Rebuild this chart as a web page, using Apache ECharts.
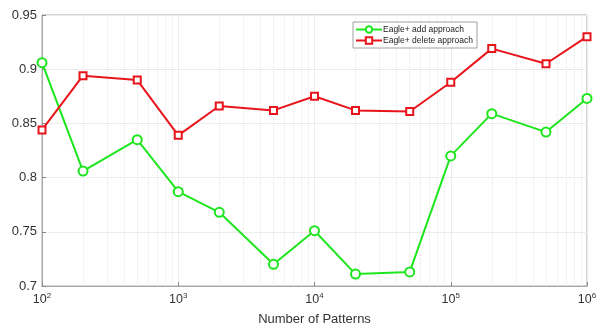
<!DOCTYPE html>
<html>
<head>
<meta charset="utf-8">
<script src="https://cdn.jsdelivr.net/npm/echarts@6/dist/echarts.min.js"></script>
<style>
html, body { margin: 0; padding: 0; background: #fff; }
#myChart1 { width: 604px; height: 331px; }
</style>
</head>
<body>
<div id="myChart1"></div>
<script>
// number of patterns (x) and accuracy of the two approaches
var patterns = [100, 200, 500, 1000, 2000, 5000, 10000, 20000, 50000, 100000, 200000, 500000, 1000000];
var addApproach = [0.906, 0.806, 0.835, 0.787, 0.768, 0.720, 0.751, 0.711, 0.713, 0.820, 0.859, 0.842, 0.873];
var deleteApproach = [0.844, 0.894, 0.890, 0.839, 0.866, 0.862, 0.875, 0.862, 0.861, 0.888, 0.919, 0.905, 0.930];
var seriesNames = ['Eagle+ add approach', 'Eagle+ delete approach'];

// minor grid positions 2..9 x 10^n
var minorLines = [];
[100, 1000, 10000, 100000].forEach(function (d) {
    for (var k = 2; k <= 9; k++) minorLines.push({ xAxis: k * d });
});

function pairs(ys) {
    return patterns.map(function (x, i) { return [x, ys[i]]; });
}

var myChart = echarts.init(document.getElementById('myChart1'));
var option = {
    animation: false,
    textStyle: { fontFamily: 'Liberation Sans, Arial, sans-serif' },
    grid: {
        left: 42, right: 17, top: 15, bottom: 44,
        show: true, borderColor: '#a8a8a8', borderWidth: 1
    },
    legend: {
        orient: 'vertical',
        left: 353, top: 22,
        itemWidth: 26, itemHeight: 8, itemGap: 2,
        padding: [3, 4, 3, 2],
        borderColor: '#a0a0a0', borderWidth: 1, backgroundColor: '#fff',
        textStyle: { fontSize: 8.5, color: '#222', padding: [0, 0, 0, -4] },
        data: seriesNames
    },
    xAxis: {
        type: 'log',
        logBase: 10,
        min: 100, max: 1000000,
        name: 'Number of Patterns',
        nameLocation: 'middle',
        nameGap: 27,
        nameTextStyle: { fontSize: 13, color: '#333' },
        axisLine: { lineStyle: { color: '#a8a8a8' } },
        axisTick: { inside: true, length: 4, lineStyle: { color: '#888' } },
        splitLine: { show: true, lineStyle: { color: '#ececec' } },
        axisLabel: {
            color: '#333', margin: 6,
            formatter: function (v) {
                var e = Math.round(Math.log10(v));
                return '{b|10}{e|' + e + '}';
            },
            rich: {
                b: { fontSize: 12.5, color: '#333', lineHeight: 16 },
                e: { fontSize: 8, color: '#333', verticalAlign: 'top', lineHeight: 10 }
            }
        }
    },
    yAxis: {
        type: 'value',
        min: 0.7, max: 0.95, interval: 0.05,
        axisLine: { show: true, lineStyle: { color: '#a8a8a8' } },
        axisTick: { show: true, inside: true, length: 4, lineStyle: { color: '#888' } },
        splitLine: { show: true, lineStyle: { color: '#ececec' } },
        axisLabel: {
            color: '#333', fontSize: 13, margin: 5,
            formatter: function (v) { return String(+v.toFixed(2)); }
        }
    },
    series: [{
        name: seriesNames[0],
        type: 'line',
        data: pairs(addApproach),
        symbol: 'emptyCircle',
        symbolSize: 9,
        color: '#1ee61e',
        lineStyle: { width: 2 },
        itemStyle: { borderWidth: 1.6 },
        z: 3,
        markLine: {
            silent: true,
            symbol: 'none',
            label: { show: false },
            lineStyle: { color: '#e6e6e6', type: 'dotted', width: 1 },
            data: minorLines,
            z: 1
        }
    }, {
        name: seriesNames[1],
        type: 'line',
        data: pairs(deleteApproach),
        symbol: 'emptyRect',
        symbolSize: 7,
        color: '#e8141b',
        lineStyle: { width: 2 },
        itemStyle: { borderWidth: 1.6 },
        z: 4
    }]
};
myChart.setOption(option);
</script>
</body>
</html>
